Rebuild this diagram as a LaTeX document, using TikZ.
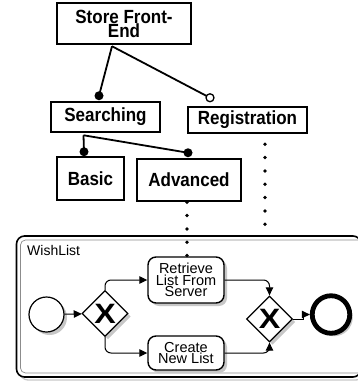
\documentclass[tikz,border=0pt]{standalone}
\usepackage{fontspec}
\setmainfont{Liberation Sans}
\usetikzlibrary{shadows,arrows.meta,shapes.geometric}
\newcommand\tallline[1]{\scalebox{1}[1.12]{#1}}

\begin{document}
\begin{tikzpicture}[x=1pt,y=-1pt,
  feat/.style={draw, line width=2.5pt, inner sep=0pt, align=center,
    font=\fontsize{17}{14}\selectfont\bfseries},
  tie/.style={line width=1.8pt},
  solid dot/.style={fill=black},
  open dot/.style={draw, fill=white, line width=1.3pt},
  dotline/.style={line width=3.8pt, line cap=round, dash pattern=on 0pt off 13.33pt},
  shade/.style={drop shadow={shadow xshift=3pt, shadow yshift=-3pt, fill=black!22, opacity=1}},
  task/.style={draw, fill=white, line width=1.4pt, rounded corners=8pt, inner sep=0pt,
    minimum width=76pt, align=center, shade,
    font=\fontsize{14.5}{11.8}\selectfont},
  gate/.style={draw, fill=white, diamond, line width=1.3pt, inner sep=0pt,
    minimum width=46pt, minimum height=46pt, shade,
    label={[font=\fontsize{28}{28}\selectfont\bfseries, inner sep=0pt]center:\scalebox{1.15}[1]{X}}},
  flow/.style={line width=1pt, -{Triangle[length=8pt,width=7.5pt]}}]
\useasboundingbox (0,0) rectangle (358,383);

% feature tree
\node[feat, minimum width=134pt, minimum height=41pt] (store) at (124,23.5) {\tallline{Store Front-}\\\tallline{End}};
\node[feat, minimum width=109pt, minimum height=30pt] (search) at (105.5,117) {\tallline{Searching}};
\node[feat, minimum width=119pt, minimum height=26pt] (reg) at (247.5,120) {\tallline{Registration}};
\node[feat, minimum width=67pt, minimum height=43pt] (basic) at (90.5,178.5) {\tallline{Basic}};
\node[feat, minimum width=104pt, minimum height=42pt] (adv) at (189,180) {\tallline{Advanced}};

\coordinate (sfork) at ([xshift=-12pt,yshift=-1pt]store.south);
\coordinate (sdot) at ([xshift=-6.5pt,yshift=5pt]search.north);
\coordinate (rdot) at ([xshift=-37.5pt,yshift=8pt]reg.north);
\coordinate (qfork) at ([xshift=-22pt,yshift=-2pt]search.south);
\coordinate (bdot) at ([xshift=-6.5pt,yshift=4pt]basic.north);
\coordinate (adot) at ([xshift=-1pt,yshift=5pt]adv.north);

\draw[tie] (sfork) -- (sdot);
\draw[tie] (sfork) -- (rdot);
\draw[tie] (qfork) -- (bdot);
\draw[tie] (qfork) -- (adot);
\fill[solid dot] (sdot) circle (4.5);
\fill[solid dot] (bdot) circle (4.5);
\fill[solid dot] (adot) circle (4.5);
\draw[open dot] (rdot) circle (4);

% WishList sub-process frame
\draw[black!22, line width=1.3pt, rounded corners=8pt] (20,239.5) rectangle (364,380);
\draw[fill=white, line width=1.6pt, rounded corners=8pt] (16.5,236) rectangle (361,377);
\draw[black!45, line width=0.7pt, rounded corners=5pt] (20.5,240) rectangle (364,373);
\node[anchor=base west, inner sep=0pt, font=\fontsize{14}{14}\selectfont] (wl) at (27,255.5) {WishList};

% process elements
\node[draw, circle, fill=white, line width=1.2pt, minimum size=35pt, inner sep=0pt, shade] (start) at (46.5,314.5) {};
\node[gate] (gw1) at (105,313.5) {};
\node[task, minimum height=46pt] (retr) at (186,280) {Retrieve\\List From\\Server};
\node[task, minimum height=34pt] (create) at (186,353) {Create\\New List};
\node[gate] (gw2) at (269.5,319) {};
\node[draw, circle, fill=white, line width=4.8pt, minimum size=37.5pt, inner sep=0pt, shade] (end) at (331,314.5) {};

% dotted traces
\coordinate (regtail) at ([xshift=17.5pt]reg.south |- 0,226);
\draw[dotline, dash phase=3.33pt] ([xshift=17.5pt]reg.south) -- (regtail);
\draw[dotline] ([xshift=-2pt]adv.south) -- ([xshift=-2pt]adv.south |- retr.north);

% sequence flows
\draw[flow] (start) -- (gw1);
\draw[flow, rounded corners=6pt] (gw1.north) |- (retr.west);
\draw[flow, rounded corners=6pt] (gw1.south) |- (create.west);
\draw[flow, rounded corners=6pt] (retr.east) -| (gw2.north);
\draw[flow, rounded corners=6pt] (create.east) -| (gw2.south);
\draw[flow] (gw2.east) -- ++(10.5,0) |- (end.west);
\end{tikzpicture}
\end{document}
